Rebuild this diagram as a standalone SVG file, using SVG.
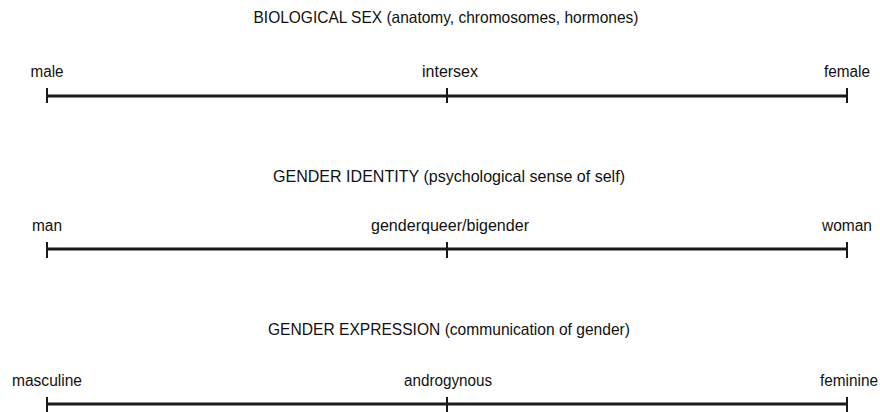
<svg xmlns="http://www.w3.org/2000/svg" width="880" height="412" viewBox="0 0 880 412">
<style>
.title{font-family:"Liberation Sans",Arial,sans-serif;font-size:16.5px;fill:#111111;text-anchor:middle}
.lab{font-family:"Liberation Sans",Arial,sans-serif;font-size:16px;fill:#111111;text-anchor:middle}
.axis{stroke:#1a1a1a;stroke-width:3;fill:none}
.tick{stroke:#1a1a1a;stroke-width:2;fill:none}
</style>
<rect width="880" height="412" fill="#ffffff"/>
<g id="title-sex"><text class="title" x="446" y="23" textLength="385" lengthAdjust="spacingAndGlyphs">BIOLOGICAL SEX (anatomy, chromosomes, hormones)</text></g>
<g id="title-identity"><text class="title" x="449" y="182" textLength="352" lengthAdjust="spacingAndGlyphs">GENDER IDENTITY (psychological sense of self)</text></g>
<g id="title-expression"><text class="title" x="449" y="335" textLength="362" lengthAdjust="spacingAndGlyphs">GENDER EXPRESSION (communication of gender)</text></g>
<g id="node-male"><text class="lab" x="47" y="77" textLength="33" lengthAdjust="spacingAndGlyphs">male</text></g>
<g id="node-intersex"><text class="lab" x="450" y="77" textLength="56" lengthAdjust="spacingAndGlyphs">intersex</text></g>
<g id="node-female"><text class="lab" x="847" y="77" textLength="46" lengthAdjust="spacingAndGlyphs">female</text></g>
<g id="node-man"><text class="lab" x="47" y="231" textLength="30" lengthAdjust="spacingAndGlyphs">man</text></g>
<g id="node-genderqueer"><text class="lab" x="450" y="231" textLength="158" lengthAdjust="spacingAndGlyphs">genderqueer/bigender</text></g>
<g id="node-woman"><text class="lab" x="847" y="231" textLength="50" lengthAdjust="spacingAndGlyphs">woman</text></g>
<g id="node-masculine"><text class="lab" x="47" y="386" textLength="70" lengthAdjust="spacingAndGlyphs">masculine</text></g>
<g id="node-androgynous"><text class="lab" x="448" y="386" textLength="88" lengthAdjust="spacingAndGlyphs">androgynous</text></g>
<g id="node-feminine"><text class="lab" x="849" y="386" textLength="58" lengthAdjust="spacingAndGlyphs">feminine</text></g>
<g id="connectors">
<line class="axis" x1="47" y1="96" x2="847" y2="96"/>
<line class="tick" x1="47" y1="88" x2="47" y2="103"/>
<line class="tick" x1="447" y1="88" x2="447" y2="103"/>
<line class="tick" x1="847" y1="88" x2="847" y2="103"/>
<line class="axis" x1="47" y1="249" x2="847" y2="249"/>
<line class="tick" x1="47" y1="242" x2="47" y2="258"/>
<line class="tick" x1="447" y1="242" x2="447" y2="258"/>
<line class="tick" x1="847" y1="242" x2="847" y2="258"/>
<line class="axis" x1="47" y1="404" x2="847" y2="404"/>
<line class="tick" x1="47" y1="397" x2="47" y2="412"/>
<line class="tick" x1="447" y1="397" x2="447" y2="412"/>
<line class="tick" x1="847" y1="397" x2="847" y2="412"/>
</g>
</svg>
